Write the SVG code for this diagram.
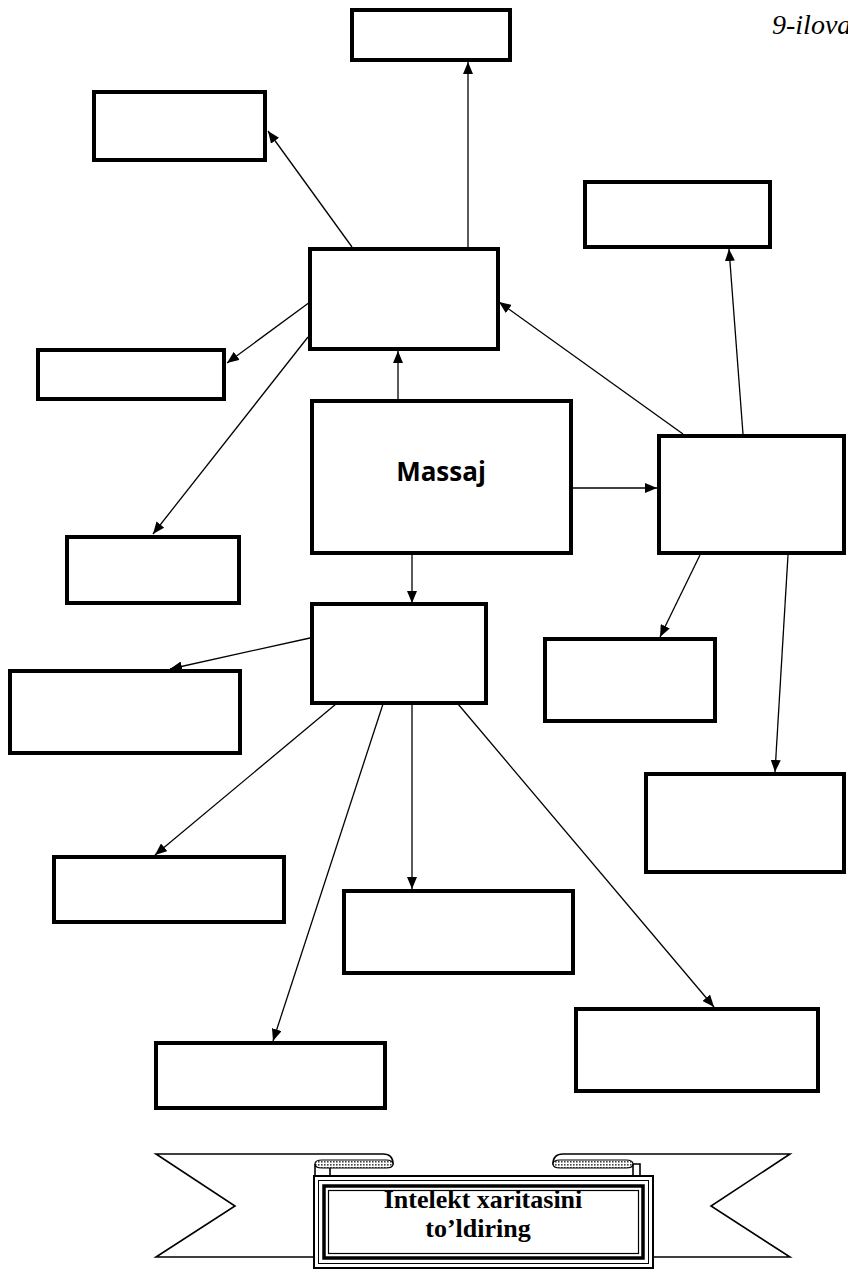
<svg xmlns="http://www.w3.org/2000/svg" width="848" height="1272" viewBox="0 0 848 1272">
<style>
.box{fill:#fff;stroke:#000;stroke-width:4}
.con line{stroke:#000;stroke-width:1.3;fill:none}
.rib{fill:#fff;stroke:#000;stroke-width:1.6;stroke-linejoin:miter}
.thin{fill:none;stroke:#000}
.ttl{font-family:"Liberation Serif",serif;font-weight:bold;font-size:26px;text-anchor:middle}
</style>
<defs>
<marker id="ah" viewBox="0 0 12 10" refX="12" refY="5" markerWidth="12" markerHeight="10" markerUnits="userSpaceOnUse" orient="auto">
<path d="M0,0 L12,5 L0,10 Z" fill="#000"/>
</marker>
<pattern id="hatch" width="3" height="3" patternUnits="userSpaceOnUse">
<rect width="3" height="3" fill="#fff"/>
<rect width="1.6" height="1.6" fill="#444"/>
</pattern>
</defs>
<rect width="848" height="1272" fill="#fff"/>
<text x="772" y="34" font-family="Liberation Serif, serif" font-style="italic" font-size="28">9-ilova</text>

<g class="con">
<line x1="468" y1="247" x2="468" y2="62" marker-end="url(#ah)"/>
<line x1="352" y1="247" x2="268" y2="131" marker-end="url(#ah)"/>
<line x1="310" y1="302" x2="227" y2="363" marker-end="url(#ah)"/>
<line x1="308" y1="337" x2="153" y2="534" marker-end="url(#ah)"/>
<line x1="398" y1="399" x2="398" y2="351" marker-end="url(#ah)"/>
<line x1="683" y1="434" x2="499" y2="302" marker-end="url(#ah)"/>
<line x1="573" y1="488" x2="657" y2="488" marker-end="url(#ah)"/>
<line x1="743" y1="434" x2="729" y2="249" marker-end="url(#ah)"/>
<line x1="700" y1="555" x2="660" y2="637" marker-end="url(#ah)"/>
<line x1="788" y1="555" x2="775" y2="772" marker-end="url(#ah)"/>
<line x1="412" y1="555" x2="412" y2="603" marker-end="url(#ah)"/>
<line x1="310" y1="638" x2="170" y2="669" marker-end="url(#ah)"/>
<line x1="336" y1="704" x2="155" y2="855" marker-end="url(#ah)"/>
<line x1="383" y1="704" x2="273" y2="1041" marker-end="url(#ah)"/>
<line x1="412" y1="704" x2="412" y2="889" marker-end="url(#ah)"/>
<line x1="458" y1="704" x2="714" y2="1007" marker-end="url(#ah)"/>
</g>

<g id="n-top"><rect class="box" x="352" y="10" width="158" height="50"/></g>
<g id="n-topleft"><rect class="box" x="94" y="92" width="171" height="68"/></g>
<g id="n-hub-up"><rect class="box" x="310" y="249" width="188" height="100"/></g>
<g id="n-righttop"><rect class="box" x="585" y="182" width="185" height="65"/></g>
<g id="n-left"><rect class="box" x="38" y="350" width="186" height="49"/></g>
<g id="n-massaj"><rect class="box" x="312" y="401" width="259" height="152"/>
<text x="441" y="481" font-family="Open Sans, sans-serif" font-weight="bold" font-size="26" text-anchor="middle">Massaj</text></g>
<g id="n-hub-right"><rect class="box" x="659" y="436" width="185" height="117"/></g>
<g id="n-leftlow"><rect class="box" x="67" y="537" width="172" height="66"/></g>
<g id="n-hub-low"><rect class="box" x="312" y="604" width="174" height="99"/></g>
<g id="n-rightmid"><rect class="box" x="545" y="639" width="170" height="82"/></g>
<g id="n-leftlow2"><rect class="box" x="10" y="671" width="230" height="82"/></g>
<g id="n-rightlow"><rect class="box" x="646" y="774" width="198" height="98"/></g>
<g id="n-b1"><rect class="box" x="54" y="857" width="230" height="65"/></g>
<g id="n-b2"><rect class="box" x="344" y="891" width="229" height="82"/></g>
<g id="n-b3"><rect class="box" x="576" y="1009" width="242" height="82"/></g>
<g id="n-b4"><rect class="box" x="156" y="1043" width="229" height="65"/></g>

<g id="banner">
<path class="rib" d="M156,1154 L383,1154 Q393,1154 393,1164 L330,1164 L330,1257 L156,1257 L235,1206 Z"/>
<path class="rib" d="M553,1164 Q553,1154 563,1154 L790,1154 L711,1206 L790,1257 L640,1257 L640,1164 Z"/>
<path d="M315,1164 Q315,1160 322,1160 L386,1160 Q393,1160 393,1164 Q393,1168 386,1168 L322,1168 Q315,1168 315,1164 Z" fill="url(#hatch)" stroke="#000" stroke-width="1.2"/>
<path d="M553,1164 Q553,1160 560,1160 L626,1160 Q633,1160 633,1164 Q633,1168 626,1168 L560,1168 Q553,1168 553,1164 Z" fill="url(#hatch)" stroke="#000" stroke-width="1.2"/>
<line class="thin" x1="315" y1="1164" x2="315" y2="1176" stroke-width="1.6"/>
<line class="thin" x1="633" y1="1164" x2="633" y2="1176" stroke-width="1.6"/>
<rect x="314" y="1176" width="339" height="92" fill="#fff" stroke="#000" stroke-width="2"/>
<rect class="thin" x="318.5" y="1180.5" width="330" height="83" stroke-width="1"/>
<rect class="thin" x="324" y="1186" width="319" height="72" stroke-width="3.5"/>
<rect class="thin" x="328.5" y="1190.5" width="310" height="63" stroke-width="1.2"/>
<text class="ttl" x="483" y="1208">Intelekt xaritasini</text>
<text class="ttl" x="478" y="1237">to’ldiring</text>
</g>
</svg>
